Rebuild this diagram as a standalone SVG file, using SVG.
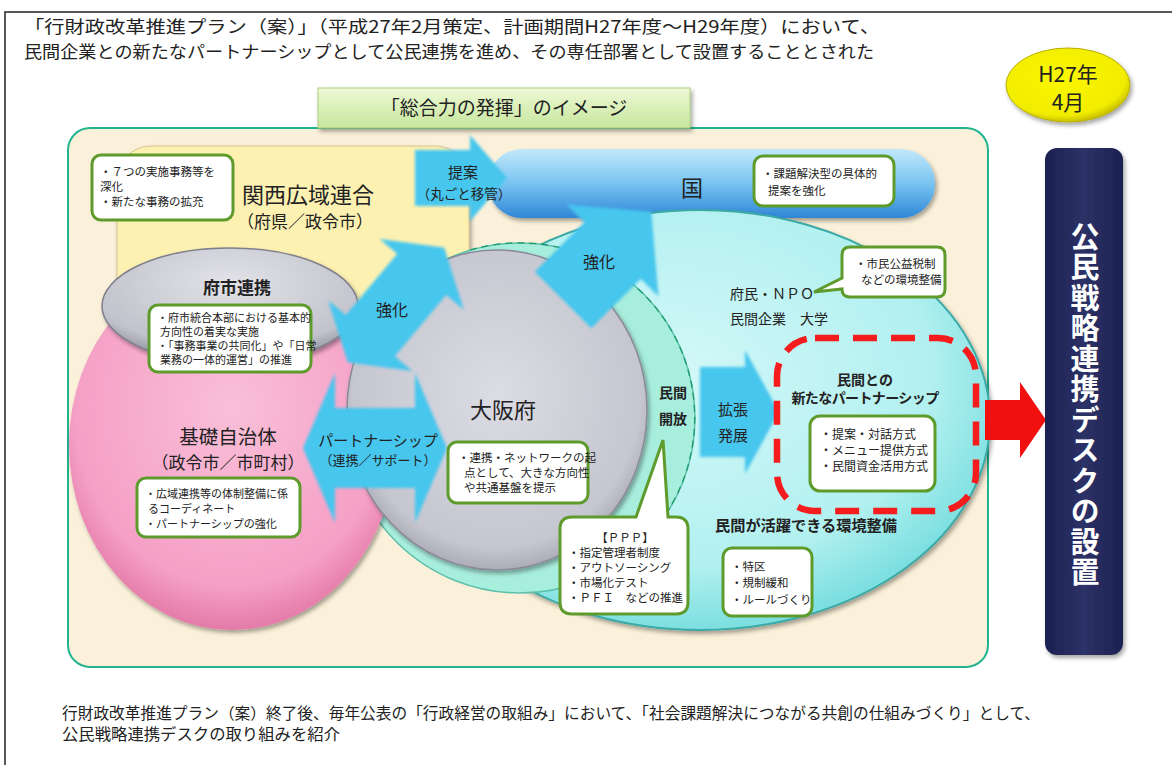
<svg xmlns="http://www.w3.org/2000/svg" width="1172" height="765" viewBox="0 0 1172 765">
<defs>
<style>
text{font-family:"Noto Sans CJK JP","Noto Sans",sans-serif;fill:#222}
.box{fill:#fff;stroke:#5e9b2c;stroke-width:3}
.s{font-size:11.5px}
.arrow{fill:#46c6ee;filter:url(#soft)}
.b{font-weight:bold}
</style>
<filter id="sh" x="-10%" y="-10%" width="130%" height="130%"><feDropShadow dx="2" dy="3" stdDeviation="2" flood-color="#000" flood-opacity="0.35"/></filter>
<filter id="soft" x="-15%" y="-15%" width="130%" height="130%"><feGaussianBlur stdDeviation="1.6"/></filter>
<linearGradient id="gTab" x1="0" y1="0" x2="0" y2="1"><stop offset="0" stop-color="#eef9d6"/><stop offset="1" stop-color="#c6e69c"/></linearGradient>
<linearGradient id="gKuni" x1="0" y1="0" x2="0" y2="1"><stop offset="0" stop-color="#c3e8fb"/><stop offset="0.5" stop-color="#78c4f1"/><stop offset="1" stop-color="#2f86d6"/></linearGradient>
<radialGradient id="gCyan" cx="0.45" cy="0.4" r="0.6"><stop offset="0" stop-color="#d4f8f8"/><stop offset="0.75" stop-color="#b2f0f0"/><stop offset="1" stop-color="#7ddfe0"/></radialGradient>
<radialGradient id="gGray" cx="0.5" cy="0.45" r="0.6"><stop offset="0" stop-color="#dcdce4"/><stop offset="0.8" stop-color="#c6c6d0"/><stop offset="1" stop-color="#9a9aa8"/></radialGradient>
<radialGradient id="gGray2" cx="0.5" cy="0.3" r="0.7"><stop offset="0" stop-color="#e2e2e8"/><stop offset="0.8" stop-color="#c2c2cc"/><stop offset="1" stop-color="#8f8f9c"/></radialGradient>
<radialGradient id="gPink" cx="0.5" cy="0.4" r="0.6"><stop offset="0" stop-color="#f9bfd8"/><stop offset="0.8" stop-color="#f5a0c6"/><stop offset="1" stop-color="#e47aa8"/></radialGradient>
<linearGradient id="gNavy" x1="0" y1="0" x2="1" y2="0"><stop offset="0" stop-color="#1c2150"/><stop offset="0.5" stop-color="#2c3167"/><stop offset="1" stop-color="#1c2150"/></linearGradient>
<radialGradient id="gYel" cx="0.45" cy="0.4" r="0.6"><stop offset="0" stop-color="#fbf700"/><stop offset="0.85" stop-color="#f2ec00"/><stop offset="1" stop-color="#c9c200"/></radialGradient>
</defs>

<g id="frame">
<path d="M5 765 V12 H1172" fill="none" stroke="#222" stroke-width="1.5"/>
</g>

<g id="title">
<text x="24" y="33" font-size="17.5" textLength="856" lengthAdjust="spacingAndGlyphs">「行財政改革推進プラン（案）」（平成27年2月策定、計画期間H27年度～H29年度）において、</text>
<text x="24" y="58" font-size="17" textLength="850" lengthAdjust="spacingAndGlyphs">民間企業との新たなパートナーシップとして公民連携を進め、その専任部署として設置することとされた</text>
</g>

<g id="h27">
<ellipse cx="1068" cy="85" rx="62" ry="37" fill="url(#gYel)" stroke="#b8b000" stroke-width="1" filter="url(#sh)"/>
<text font-size="21" text-anchor="middle"><tspan x="1068" y="82">H27年</tspan><tspan x="1068" y="110">4月</tspan></text>
</g>

<g id="panel">
<rect x="68" y="128" width="920" height="539" rx="22" fill="#fbf1da" stroke="#22b391" stroke-width="2"/>
</g>

<g id="tab">
<rect x="318" y="88" width="372" height="40" fill="url(#gTab)" stroke="#a9cf7e" stroke-width="1" filter="url(#sh)"/>
<text x="504" y="115" font-size="19" text-anchor="middle">「総合力の発揮」のイメージ</text>
</g>

<g id="kansai">
<rect x="117" y="146" width="352" height="250" rx="34" fill="#fdf1b2" stroke="#d8c48e" stroke-width="1" filter="url(#sh)"/>
</g>

<g id="kuni">
<rect x="488" y="149" width="447" height="69" rx="34" fill="url(#gKuni)" filter="url(#sh)"/>
<text x="692" y="196" font-size="22" text-anchor="middle">国</text>
</g>

<g id="minkan">
<ellipse cx="700" cy="420" rx="290" ry="210" fill="url(#gCyan)" stroke="#3aa9a6" stroke-width="2" filter="url(#sh)"/>
</g>

<g id="kaiho">
<circle cx="520" cy="418" r="175" fill="#a8eedd" stroke="#5cc0aa" stroke-width="1.5"/>
<path d="M470 250 A175 175 0 0 1 654 530" fill="none" stroke="#1a9a6a" stroke-width="1.3" stroke-dasharray="7 5"/>
</g>

<g id="pink">
<ellipse cx="232" cy="445" rx="163" ry="185" fill="url(#gPink)" filter="url(#sh)"/>
</g>

<g id="osaka">
<ellipse cx="497" cy="410" rx="150" ry="160" fill="url(#gGray)" stroke="#8a8a98" stroke-width="1.5" filter="url(#sh)"/>
</g>

<g id="fushi">
<ellipse cx="230" cy="306" rx="128" ry="58" fill="url(#gGray2)" stroke="#7e7e8c" stroke-width="1.5" filter="url(#sh)"/>
</g>

<g id="connectors">
<path class="arrow" d="M415 150 L470 150 L470 135 L507 178 L470 221 L470 206 L415 206 Z"/>
<path class="arrow" transform="translate(396,305) rotate(-50)" d="M-75 0 L-40 -55 L-40 -32 L40 -32 L40 -55 L75 0 L40 55 L40 32 L-40 32 L-40 55 Z"/>
<path class="arrow" transform="translate(563,300) rotate(-45)" d="M0 -40 L70 -40 L70 -65 L125 0 L70 65 L70 40 L0 40 Z"/>
<path class="arrow" transform="translate(375,448)" d="M-72 0 L-40 -75 L-40 -40 L40 -40 L40 -75 L72 0 L40 75 L40 40 L-40 40 L-40 75 Z"/>
<path class="arrow" d="M700 367 L745 367 L745 350 L779 412 L745 474 L745 457 L700 457 Z"/>
<path d="M985 400 H1020 V382 L1046 420 L1020 458 V440 H985 Z" fill="#f01010"/>
</g>

<g id="labels">
<text font-size="22" text-anchor="middle"><tspan x="308" y="203">関西広域連合</tspan><tspan x="305" y="228" font-size="17">（府県／政令市）</tspan></text>
<text font-size="15" text-anchor="middle"><tspan x="463" y="178">提案</tspan><tspan x="464" y="199" font-size="13.5">（丸ごと移管）</tspan></text>
<text x="392" y="316" font-size="16" text-anchor="middle">強化</text>
<text x="599" y="268" font-size="16" text-anchor="middle">強化</text>
<text x="237" y="294" font-size="17" text-anchor="middle" class="b">府市連携</text>
<text font-size="19.5" text-anchor="middle"><tspan x="228" y="444">基礎自治体</tspan><tspan x="228" y="469" font-size="17">（政令市／市町村）</tspan></text>
<text font-size="15" text-anchor="middle"><tspan x="378" y="446">パートナーシップ</tspan><tspan x="378" y="465" font-size="13">（連携／サポート）</tspan></text>
<text x="503" y="418" font-size="22" text-anchor="middle">大阪府</text>
<text font-size="14" text-anchor="middle" class="b"><tspan x="673" y="398">民間</tspan><tspan x="673" y="424">開放</tspan></text>
<text font-size="15" text-anchor="middle"><tspan x="733" y="415">拡張</tspan><tspan x="733" y="441">発展</tspan></text>
<text font-size="14"><tspan x="730" y="299">府民・ＮＰＯ</tspan><tspan x="730" y="324">民間企業　大学</tspan></text>
<text font-size="14" text-anchor="middle" class="b"><tspan x="865" y="385">民間との</tspan><tspan x="865" y="403" letter-spacing="-0.6">新たなパートナーシップ</tspan></text>
<text x="715" y="531" font-size="15" class="b" textLength="182" lengthAdjust="spacingAndGlyphs">民間が活躍できる環境整備</text>
</g>

<g id="partnership">
<rect x="777" y="338" width="199" height="173" rx="38" fill="none" stroke="#f41c1c" stroke-width="6.5" stroke-dasharray="24 14"/>
</g>

<g id="box-kansai">
<rect class="box" x="92" y="155" width="141" height="65" rx="9"/>
<text class="s"><tspan x="100" y="176">・７つの実施事務等を</tspan><tspan x="100" y="191">深化</tspan><tspan x="100" y="206">・新たな事務の拡充</tspan></text>
</g>
<g id="box-kuni">
<rect class="box" x="754" y="156" width="140" height="50" rx="9"/>
<text class="s"><tspan x="762" y="178">・課題解決型の具体的</tspan><tspan x="768" y="195">提案を強化</tspan></text>
</g>
<g id="box-fumin">
<path class="box" d="M850 247 H937 Q945 247 945 255 V289 Q945 297 937 297 H850 Q842 297 842 289 L814 292 L842 278 V255 Q842 247 850 247 Z"/>
<text class="s" font-size="11"><tspan x="855" y="268">・市民公益税制</tspan><tspan x="861" y="284">などの環境整備</tspan></text>
</g>
<g id="box-fushi">
<rect class="box" x="149" y="305" width="162" height="67" rx="9"/>
<text class="s" style="font-size:11px"><tspan x="157" y="322">・府市統合本部における基本的</tspan><tspan x="160" y="336">方向性の着実な実施</tspan><tspan x="157" y="350">・「事務事業の共同化」や「日常</tspan><tspan x="160" y="364">業務の一体的運営」の推進</tspan></text>
</g>
<g id="box-kiso">
<rect class="box" x="137" y="478" width="163" height="59" rx="9"/>
<text class="s" style="font-size:11px"><tspan x="145" y="498">・広域連携等の体制整備に係</tspan><tspan x="148" y="513">るコーディネート</tspan><tspan x="145" y="528">・パートナーシップの強化</tspan></text>
</g>
<g id="box-osaka">
<rect class="box" x="448" y="442" width="140" height="61" rx="9"/>
<text class="s"><tspan x="458" y="462">・連携・ネットワークの起</tspan><tspan x="464" y="477">点として、大きな方向性</tspan><tspan x="464" y="492">や共通基盤を提示</tspan></text>
</g>
<g id="box-ppp">
<path class="box" d="M572 517 H636 L663 440 L668 517 H676 Q688 517 688 529 V602 Q688 614 676 614 H572 Q560 614 560 602 V529 Q560 517 572 517 Z"/>
<text class="s"><tspan x="625" y="542" text-anchor="middle">【ＰＰＰ】</tspan><tspan x="568" y="557">・指定管理者制度</tspan><tspan x="568" y="572">・アウトソーシング</tspan><tspan x="568" y="587">・市場化テスト</tspan><tspan x="568" y="602">・ＰＦＩ　などの推進</tspan></text>
</g>
<g id="box-hoshiki">
<rect class="box" x="810" y="416" width="125" height="75" rx="10"/>
<text class="s" style="font-size:12px"><tspan x="820" y="439">・提案・対話方式</tspan><tspan x="820" y="455">・メニュー提供方式</tspan><tspan x="820" y="471">・民間資金活用方式</tspan></text>
</g>
<g id="box-tokku">
<rect class="box" x="723" y="548" width="89" height="68" rx="9"/>
<text class="s"><tspan x="731" y="571">・特区</tspan><tspan x="731" y="587">・規制緩和</tspan><tspan x="731" y="604">・ルールづくり</tspan></text>
</g>

<g id="desk">
<rect x="1045" y="148" width="78" height="507" rx="12" fill="url(#gNavy)" filter="url(#sh)"/>
<text x="1085" y="222" font-size="29" font-weight="bold" style="fill:#fff;writing-mode:vertical-rl;letter-spacing:1.5px">公民戦略連携デスクの設置</text>
</g>

<g id="footer">
<text x="62" y="719" font-size="15.5" textLength="978" lengthAdjust="spacingAndGlyphs">行財政改革推進プラン（案）終了後、毎年公表の「行政経営の取組み」において、「社会課題解決につながる共創の仕組みづくり」として、</text>
<text x="62" y="740" font-size="15.5" textLength="278" lengthAdjust="spacingAndGlyphs">公民戦略連携デスクの取り組みを紹介</text>
</g>
</svg>
